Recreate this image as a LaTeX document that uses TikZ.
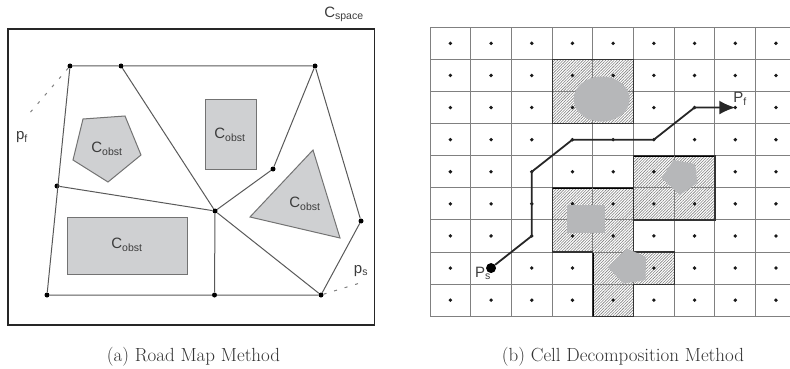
\documentclass[tikz,border=0pt]{standalone}
\usepackage{fontspec}
\setsansfont{Liberation Sans}
\usetikzlibrary{arrows.meta,patterns.meta}
\definecolor{obstgray}{HTML}{CFD0D2}
\definecolor{blobgray}{HTML}{B6B7B9}
\definecolor{labelgray}{HTML}{3C3C3C}
\definecolor{gridgray}{HTML}{808080}
\tikzset{
	rmnode/.style={circle,fill=black,inner sep=0pt,minimum size=5pt},
	griddot/.style={circle,fill=black!90,inner sep=0pt,minimum size=3.8pt},
	rmedge/.style={draw=black!65,line width=1pt},
	rmdash/.style={draw=black!50,line width=1pt,dash pattern=on 3pt off 8pt},
	obst/.style={draw=black!55,fill=obstgray,line width=1pt},
	blob/.style={fill=blobgray,draw=none},
	hatchcell/.style={pattern={Lines[angle=45,distance=2pt,line width=0.6pt]},pattern color=black!50},
	obstedge/.style={draw=black!80,line width=1.2pt},
	lbl/.style={font=\sffamily\fontsize{15}{18}\selectfont,text=labelgray,inner sep=0pt},
	captionlbl/.style={font=\fontsize{19}{22}\selectfont,text=black!80,inner sep=0pt}
}
\begin{document}
\begin{tikzpicture}[x=1pt,y=-1pt]
	\useasboundingbox (0,0) rectangle (790,369);
	% road map
	\draw [black!85,line width=1.8pt] (8,29) rectangle (374.5,325);
	\draw [obst] (83,119) -- (125,116) -- (141,155) -- (108,182) -- (73,160) -- cycle;
	\draw [obst] (205,99.5) rectangle (256,169);
	\draw [obst] (313,150) -- (340,238) -- (250,217) -- cycle;
	\draw [obst] (67,217) rectangle (187,274);
	\node [rmnode] (a) at (70,66) {};
	\node [rmnode] (b) at (121,66) {};
	\node [rmnode] (c) at (315,66) {};
	\node [rmnode] (d) at (57,186) {};
	\node [rmnode] (e) at (215,211) {};
	\node [rmnode] (f) at (273,169) {};
	\node [rmnode] (g) at (361,221) {};
	\node [rmnode] (h) at (47,295) {};
	\node [rmnode] (i) at (214.5,295) {};
	\node [rmnode] (j) at (321,295) {};
	\draw [rmedge] (a) -- (b) -- (c) -- (g) -- (j) -- (i) -- (h) -- (a);
	\draw [rmedge] (b) -- (e) -- (j);
	\draw [rmedge] (c) -- (f) -- (e) -- (i);
	\draw [rmedge] (d) -- (e);
	\node [lbl] (cspace) at (344,14) {C\textsubscript{space}};
	\node [lbl] (pf) at (22,137) {p\textsubscript{f}};
	\node [lbl] (ps) at (361,271) {p\textsubscript{s}};
	\node [lbl] (obstA) at (107,149) {C\textsubscript{obst}};
	\node [lbl] (obstB) at (230,135) {C\textsubscript{obst}};
	\node [lbl] (obstC) at (305,204) {C\textsubscript{obst}};
	\node [lbl] (obstD) at (127,245) {C\textsubscript{obst}};
	\coordinate (pfend) at (28,115);
	\coordinate (psend) at (360,283);
	\draw [rmdash] (a) -- (pfend);
	\draw [rmdash] (j) -- (psend);
	\node [captionlbl] (capa) at (193.5,357) {(a) Road Map Method};
	% cell decomposition
	\begin{scope}[shift={(430,27.3)},x=40.7pt,y=-32.1pt]
		\draw [hatchcell] (3,1) rectangle (5,3);
		\draw [hatchcell] (5,4) rectangle (7,6);
		\draw [hatchcell] (3,5) rectangle (5,7);
		\draw [hatchcell] (4,7) rectangle (6,8);
		\draw [hatchcell] (4,8) rectangle (5,9);
		\foreach \c in {0,...,8}
			\draw [gridgray,line width=1pt] (\c,0) -- (\c,9);
		\foreach \r in {0,...,9}
			\draw [gridgray,line width=1pt] (0,\r) -- (8.84,\r);
		\foreach \c in {0,...,8}
			\foreach \r in {0,...,8}
				\node [griddot] (dot-\c-\r) at (\c+.5,\r+.5) {};
		\draw [obstedge] (3,1) rectangle (5,3);
		\draw [obstedge] (5,4) rectangle (7,6);
		\draw [obstedge] (3,5) -- (5,5) -- (5,7) -- (6,7) -- (6,8) -- (5,8) -- (5,9) -- (4,9) -- (4,7) -- (3,7) -- cycle;
	\end{scope}
	\fill [blob] (601.7,99) ellipse (28 and 22.5);
	\fill [blob] (673.5,160) -- (695,164) -- (697.5,183) -- (680,195) -- (661.5,178) -- cycle;
	\fill [blob] (566.5,204.5) rectangle (604.5,233);
	\fill [blob] (627,248.5) -- (646,257) -- (645.5,280) -- (623.5,283.5) -- (607.5,267) -- cycle;
	\node [circle,fill=black,inner sep=0pt,minimum size=10pt] (start) at (dot-1-7) {};
	\draw [black!85,line width=1.8pt,-{Latex[length=16pt,width=14pt]}] (start) -- (dot-2-6.center) -- (dot-2-4.center) -- (dot-3-3.center) -- (dot-5-3.center) -- (dot-6-2.center) -- (dot-7-2.center);
	\node [lbl] (lblps) at (483,273) {P\textsubscript{s}};
	\node [lbl] (lblpf) at (740,99) {P\textsubscript{f}};
	\node [captionlbl] (capb) at (623,357) {(b) Cell Decomposition Method};
\end{tikzpicture}
\end{document}
